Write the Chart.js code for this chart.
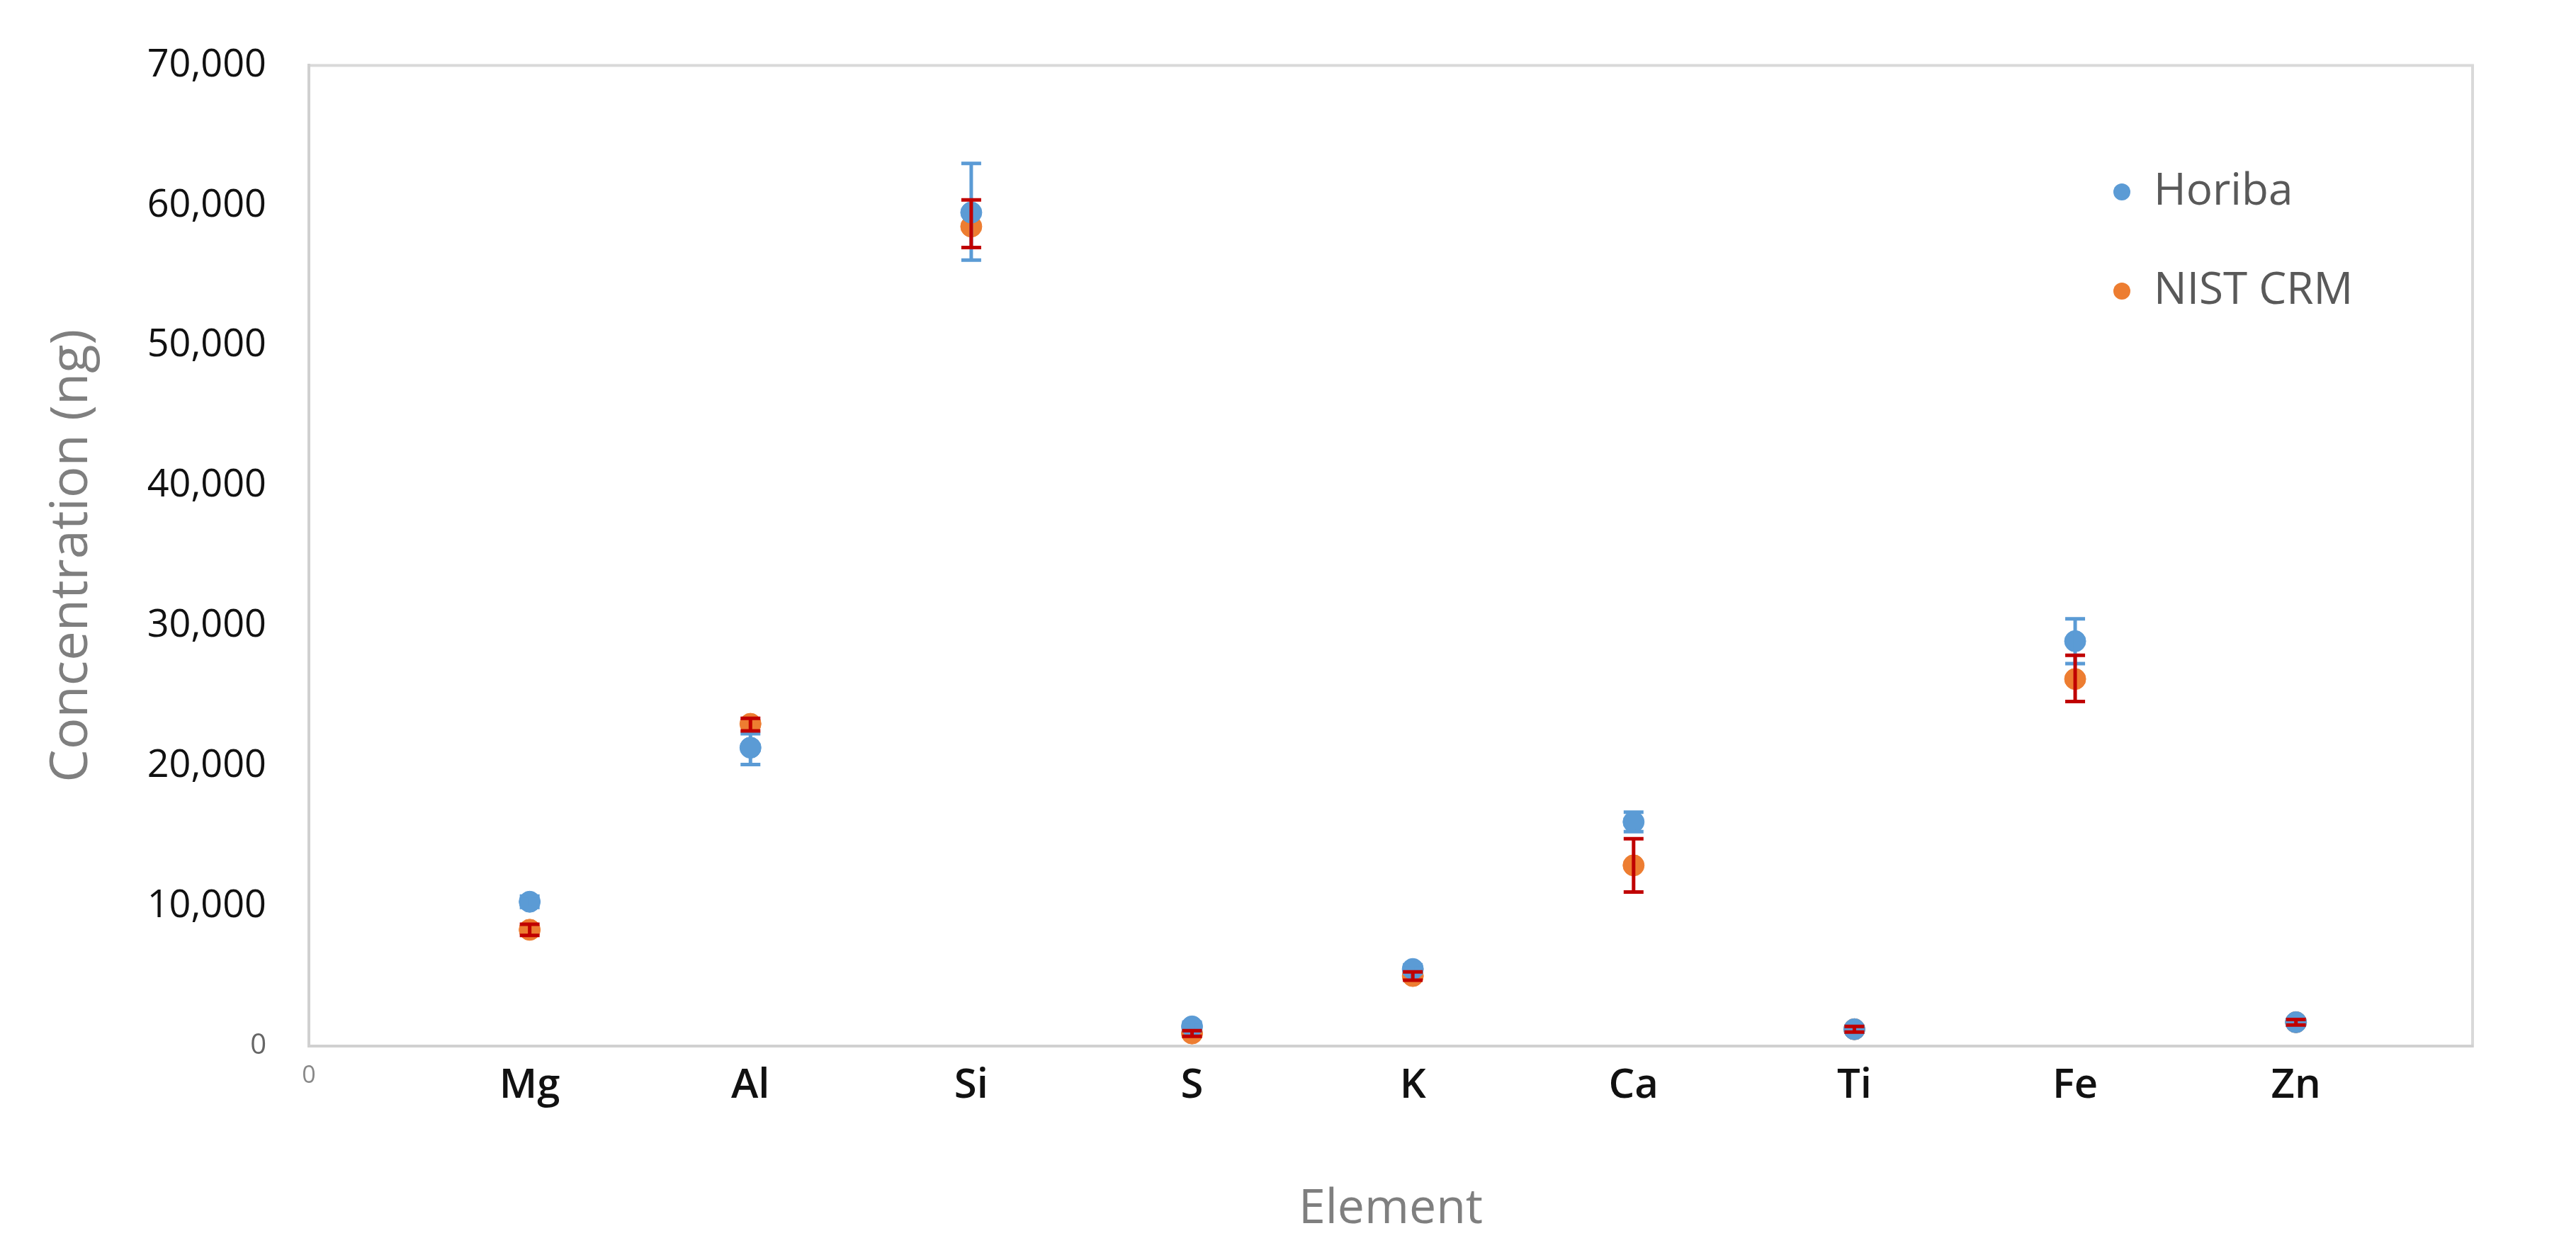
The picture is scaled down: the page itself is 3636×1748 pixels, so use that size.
<!DOCTYPE html>
<html>
<head>
<meta charset="utf-8">
<script src="https://cdn.jsdelivr.net/npm/chart.js@4"></script>
<style>
  html, body { margin: 0; padding: 0; background: #fff; }
  #wrap { width: 3636px; height: 1748px; }
</style>
</head>
<body>
<div id="wrap"><canvas id="c"></canvas></div>
<script>
// ─── DATA ───
const ELEMENTS = ['Mg', 'Al', 'Si', 'S', 'K', 'Ca', 'Ti', 'Fe', 'Zn'];
const POSITIONS = [1, 2, 3, 4, 5, 6, 7, 8, 9];
const HORIBA     = [10300, 21300, 59500, 1400, 5500, 16000, 1200, 28900, 1700];
const HORIBA_LO  = [9900, 20100, 56100, 1100, 5200, 15300, 1000, 27300, 1500];
const HORIBA_HI  = [10700, 22300, 63000, 1700, 5800, 16700, 1400, 30500, 1900];
const NIST       = [8300, 23000, 58500, 900, 5000, 12900, 1200, 26200, 1700];
const NIST_LO    = [7900, 22500, 57000, 700, 4700, 11000, 1000, 24600, 1500];
const NIST_HI    = [8700, 23400, 60400, 1100, 5300, 14800, 1400, 27900, 1900];
const Y_TICKS    = [0, 10000, 20000, 30000, 40000, 50000, 60000, 70000];

const BLUE = '#5b9bd5', ORANGE = '#ed7d31', RED = '#c00000';

// ── error bars + legend ──
const errorBars = {
  id: 'errorBars',
  afterDatasetsDraw(chart) {
    const { ctx, scales: { x, y } } = chart;
    const sets = [[HORIBA_LO, HORIBA_HI, BLUE], [NIST_LO, NIST_HI, RED]];
    ctx.save();
    ctx.lineWidth = 5;
    sets.forEach(([lo, hi, col]) => {
      ctx.strokeStyle = col;
      POSITIONS.forEach((p, i) => {
        const px = x.getPixelForValue(p);
        const y1 = y.getPixelForValue(lo[i]), y2 = y.getPixelForValue(hi[i]);
        ctx.beginPath();
        ctx.moveTo(px, y1); ctx.lineTo(px, y2);
        ctx.moveTo(px - 14, y1); ctx.lineTo(px + 14, y1);
        ctx.moveTo(px - 14, y2); ctx.lineTo(px + 14, y2);
        ctx.stroke();
      });
    });
    // legend
    ctx.font = '62px "Open Sans", sans-serif';
    ctx.textBaseline = 'middle';
    chart.data.datasets.forEach((ds, i) => {
      const ly = 271 + i * 140;
      ctx.fillStyle = ds.backgroundColor;
      ctx.beginPath(); ctx.arc(2995, ly, 12, 0, Math.PI * 2); ctx.fill();
      ctx.fillStyle = '#595959';
      ctx.fillText(ds.label, 3040, ly);
    });
    ctx.restore();
  },
};

new Chart(document.getElementById('c'), {
  type: 'scatter',
  data: {
    datasets: [
      { label: 'Horiba', data: POSITIONS.map((p, i) => ({ x: p, y: HORIBA[i] })),
        backgroundColor: BLUE, borderColor: BLUE, pointRadius: 15 },
      { label: 'NIST CRM', data: POSITIONS.map((p, i) => ({ x: p, y: NIST[i] })),
        backgroundColor: ORANGE, borderColor: ORANGE, pointRadius: 15 },
    ],
  },
  options: {
    responsive: true, maintainAspectRatio: false, animation: false,
    layout: { padding: { top: 86, right: 146, left: 0, bottom: 0 } },
    plugins: { legend: { display: false }, tooltip: { enabled: false } },
    scales: {
      x: {
        type: 'linear', min: 0, max: 9.8,
        afterBuildTicks: s => { s.ticks = [0, ...POSITIONS].map(v => ({ value: v })); },
        afterFit: s => { s.height = 271; },
        grid: { display: false, drawTicks: false },
        border: { color: '#d0d0d0', width: 4 },
        ticks: {
          padding: 22,
          callback: v => v === 0 ? '0' : ELEMENTS[v - 1],
          color: ctx => ctx.tick.value === 0 ? '#888' : '#111',
          font: ctx => ({ family: '"Open Sans", sans-serif', weight: ctx.tick && ctx.tick.value === 0 ? 400 : 600,
            size: ctx.tick && ctx.tick.value === 0 ? 34 : 58 }),
        },
        title: { display: true, text: 'Element', color: '#7f7f7f', padding: { top: 60, bottom: 0 },
          font: { family: '"Open Sans", sans-serif', size: 68 } },
      },
      y: {
        min: 0, max: 70000,
        afterBuildTicks: s => { s.ticks = Y_TICKS.map(v => ({ value: v })); },
        afterFit: s => { s.width = 436; },
        grid: { display: false, drawTicks: false },
        border: { color: '#d0d0d0', width: 4 },
        ticks: {
          padding: 60,
          callback: v => v.toLocaleString('en-US'),
          color: ctx => ctx.tick.value === 0 ? '#666' : '#111',
          font: ctx => ({ family: '"Open Sans", sans-serif', size: ctx.tick && ctx.tick.value === 0 ? 40 : 54 }),
        },
        title: { display: true, text: 'Concentration (ng)', color: '#7f7f7f', padding: { top: 58, bottom: 0 },
          font: { family: '"Open Sans", sans-serif', size: 74 } },
      },
    },
  },
  plugins: [errorBars, {
    id: 'frame',
    beforeDraw(chart) {
      const { ctx, chartArea: a } = chart;
      ctx.save();
      ctx.strokeStyle = '#d9d9d9'; ctx.lineWidth = 4;
      ctx.strokeRect(a.left, a.top, a.right - a.left, a.bottom - a.top);
      ctx.restore();
    },
  }],
});
</script>
</body>
</html>
